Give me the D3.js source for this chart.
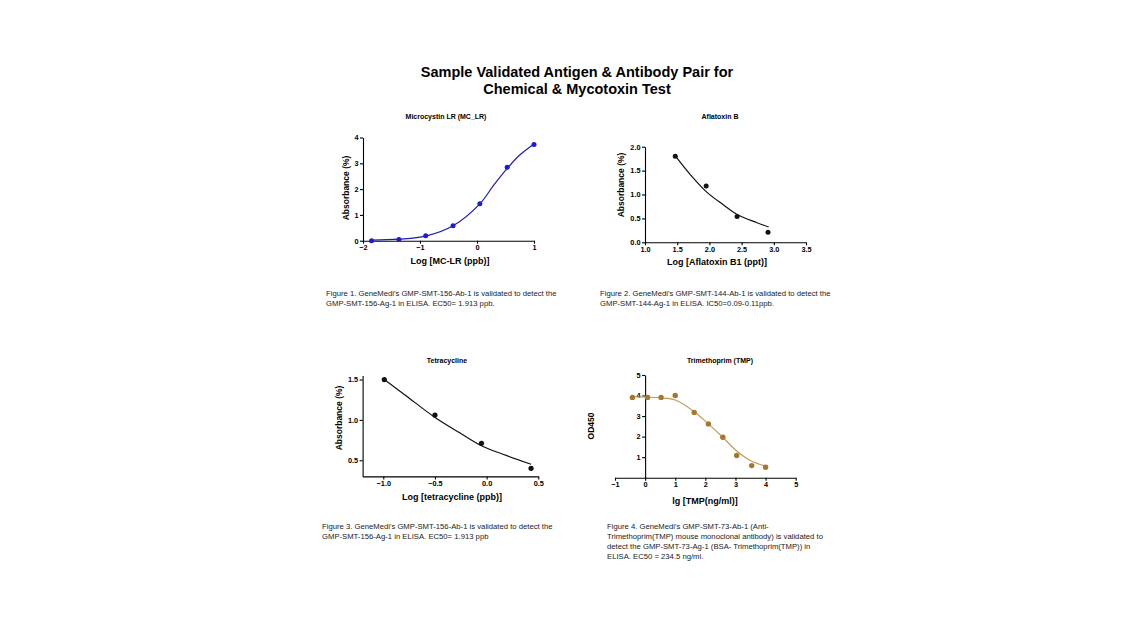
<!DOCTYPE html>
<html>
<head>
<meta charset="utf-8">
<script src="https://cdn.jsdelivr.net/npm/d3@7"></script>
<style>
  body { margin: 0; background: #fff; }
  svg { display: block; font-family: "Liberation Sans", Arial, sans-serif; }
</style>
</head>
<body>
<svg id="chart" width="1126" height="617"></svg>
<script>
// panel 1: microcystin LR
const mcX = [-1.85, -1.37, -0.90, -0.42, 0.05, 0.53, 1.00];
const mcY = [0.00, 0.05, 0.19, 0.58, 1.43, 2.85, 3.73];
const mcFitX = [-1.85, -1.37, -0.90, -0.42, 0.05, 0.29, 0.53, 0.75, 1.00];
const mcFitY = [0.02, 0.06, 0.18, 0.58, 1.43, 2.14, 2.80, 3.32, 3.75];

// panel 2: aflatoxin B
const afX = [1.47, 1.95, 2.43, 2.91];
const afY = [1.80, 1.18, 0.54, 0.21];
const afFitX = [1.48, 1.70, 1.95, 2.22, 2.43, 2.74, 2.92];
const afFitY = [1.79, 1.42, 1.06, 0.78, 0.58, 0.41, 0.32];

// panel 3: tetracycline
const tcX = [-0.99, -0.50, -0.05, 0.43];
const tcY = [1.50, 1.06, 0.71, 0.40];
const tcFitX = [-0.99, -0.78, -0.51, -0.26, -0.05, 0.19, 0.43];
const tcFitY = [1.50, 1.30, 1.04, 0.84, 0.68, 0.56, 0.45];

// panel 4: trimethoprim
const tmpX = [-0.42, 0.08, 0.53, 1.00, 1.63, 2.10, 2.58, 3.04, 3.54, 4.00];
const tmpY = [3.91, 3.91, 3.91, 4.00, 3.18, 2.62, 1.97, 1.08, 0.59, 0.51];
const tmpFitX = [-0.42, 0.00, 0.50, 1.00, 1.60, 2.10, 2.58, 3.04, 3.54, 4.05];
const tmpFitY = [3.93, 3.93, 3.89, 3.78, 3.25, 2.62, 1.97, 1.30, 0.80, 0.55];

const mainTitle = ["Sample Validated Antigen & Antibody Pair for", "Chemical & Mycotoxin Test"];

const captions = [
  ["Figure 1. GeneMedi's GMP-SMT-156-Ab-1 is validated to detect the",
   "GMP-SMT-156-Ag-1 in ELISA. EC50= 1.913 ppb."],
  ["Figure 2. GeneMedi's GMP-SMT-144-Ab-1 is validated to detect the",
   "GMP-SMT-144-Ag-1 in ELISA. IC50=0.09-0.11ppb."],
  ["Figure 3. GeneMedi's GMP-SMT-156-Ab-1 is validated to detect the",
   "GMP-SMT-156-Ag-1 in ELISA. EC50= 1.913 ppb"],
  ["Figure 4. GeneMedi's GMP-SMT-73-Ab-1 (Anti-",
   "Trimethoprim(TMP) mouse monoclonal antibody) is validated to",
   "detect the GMP-SMT-73-Ag-1 (BSA- Trimethoprim(TMP)) in",
   "ELISA. EC50 = 234.5 ng/ml."]
];

const svg = d3.select("#chart");

svg.append("text")
  .attr("x", 577).attr("text-anchor", "middle")
  .style("font-weight", "bold").style("font-size", "14.5px")
  .selectAll("tspan").data(mainTitle).join("tspan")
  .attr("x", 577).attr("y", (d, i) => 77 + i * 17)
  .text(d => d);

const panels = [
  {
    title: "Microcystin LR (MC_LR)", titleX: 446, titleY: 119,
    xs: mcX, ys: mcY, fx: mcFitX, fy: mcFitY,
    xDom: [-2, 1], xRange: [363, 534], yDom: [0, 4], yRange: [240.7, 137.5],
    xTicks: [-2, -1, 0, 1], yTicks: [0, 1, 2, 3, 4], fmtX: d3.format("d"), fmtY: d3.format("d"),
    xLabel: "Log [MC-LR (ppb)]", xLabelX: 450, xLabelY: 264,
    yLabel: "Absorbance (%)", yLabelX: 349, yLabelY: 188,
    dot: "#1c1cd0", line: "#1c1cb0", r: 2.5
  },
  {
    title: "Aflatoxin B", titleX: 720, titleY: 119,
    xs: afX, ys: afY, fx: afFitX, fy: afFitY,
    xDom: [1, 3.5], xRange: [645, 806], yDom: [0, 2], yRange: [242.3, 146.7],
    xTicks: [1, 1.5, 2, 2.5, 3, 3.5], yTicks: [0, 0.5, 1, 1.5, 2], fmtX: d3.format(".1f"), fmtY: d3.format(".1f"),
    xLabel: "Log [Aflatoxin B1 (ppt)]", xLabelX: 717, xLabelY: 265,
    yLabel: "Absorbance (%)", yLabelX: 624, yLabelY: 185,
    dot: "#111", line: "#111", r: 2.5
  },
  {
    title: "Tetracycline", titleX: 447, titleY: 363,
    xs: tcX, ys: tcY, fx: tcFitX, fy: tcFitY,
    xDom: [-1.2, 0.5], xRange: [362.6, 538.3], yDom: [0.3, 1.55], yRange: [476.4, 375.5],
    xTicks: [-1, -0.5, 0, 0.5], yTicks: [0.5, 1, 1.5], fmtX: d3.format(".1f"), fmtY: d3.format(".1f"),
    xLabel: "Log [tetracycline (ppb)]", xLabelX: 452, xLabelY: 500,
    yLabel: "Absorbance (%)", yLabelX: 342, yLabelY: 418,
    dot: "#111", line: "#111", r: 2.6
  },
  {
    title: "Trimethoprim (TMP)", titleX: 720, titleY: 363,
    xs: tmpX, ys: tmpY, fx: tmpFitX, fy: tmpFitY,
    xDom: [-1, 5], xRange: [615, 795.7], yDom: [0, 5], yRange: [477.7, 375],
    xTicks: [-1, 0, 1, 2, 3, 4, 5], yTicks: [1, 2, 3, 4, 5], fmtX: d3.format("d"), fmtY: d3.format("d"),
    xLabel: "lg [TMP(ng/ml)]", xLabelX: 705, xLabelY: 504,
    yLabel: "OD450", yLabelX: 594, yLabelY: 426,
    dot: "#a8762a", line: "#c49a58", r: 2.7, crossAxes: true
  }
];

panels.forEach(function(p) {
  const g = svg.append("g");
  const x = d3.scaleLinear().domain(p.xDom).range(p.xRange);
  const y = d3.scaleLinear().domain(p.yDom).range(p.yRange);

  g.append("text")
    .attr("x", p.titleX).attr("y", p.titleY)
    .attr("text-anchor", "middle")
    .style("font-weight", "bold").style("font-size", "7px")
    .text(p.title);

  const axisY = p.crossAxes ? y(0) : p.yRange[0];
  const axisX = p.crossAxes ? x(0) : p.xRange[0];

  const xa = g.append("g")
    .attr("transform", `translate(0,${axisY})`)
    .call(d3.axisBottom(x).tickValues(p.xTicks).tickFormat(p.fmtX).tickSize(3).tickPadding(1.5).tickSizeOuter(0));
  const ya = g.append("g")
    .attr("transform", `translate(${axisX},0)`)
    .call(d3.axisLeft(y).tickValues(p.yTicks).tickFormat(p.fmtY).tickSize(3).tickPadding(1.5).tickSizeOuter(0));

  [xa, ya].forEach(function(a) {
    a.select(".domain").attr("stroke", "#000").attr("stroke-width", 1.1);
    a.selectAll(".tick line").attr("stroke", "#000").attr("stroke-width", 1.1);
    a.selectAll(".tick text")
      .attr("fill", "#000")
      .style("font-family", "'Liberation Sans', Arial, sans-serif")
      .style("font-weight", "bold").style("font-size", "7.3px");
  });

  g.append("text")
    .attr("x", p.xLabelX).attr("y", p.xLabelY)
    .attr("text-anchor", "middle")
    .style("font-weight", "bold").style("font-size", "9px")
    .text(p.xLabel);

  g.append("text")
    .attr("transform", `translate(${p.yLabelX},${p.yLabelY}) rotate(-90)`)
    .attr("text-anchor", "middle")
    .style("font-weight", "bold").style("font-size", "8.5px")
    .text(p.yLabel);

  const fit = p.fx.map((d, i) => [d, p.fy[i]]);
  g.append("path")
    .datum(fit)
    .attr("fill", "none")
    .attr("stroke", p.line)
    .attr("stroke-width", 1.2)
    .attr("d", d3.line().x(d => x(d[0])).y(d => y(d[1])).curve(d3.curveCatmullRom.alpha(0.5)));

  g.selectAll("circle")
    .data(p.xs.map((d, i) => [d, p.ys[i]]))
    .join("circle")
    .attr("cx", d => x(d[0]))
    .attr("cy", d => y(d[1]))
    .attr("r", p.r)
    .attr("fill", p.dot);
});

const capPos = [[326, 296], [600, 296], [322, 529], [607, 529]];
captions.forEach(function(lines, k) {
  svg.append("text")
    .style("font-size", "7.7px").attr("fill", "#1a1a1a")
    .selectAll("tspan").data(lines).join("tspan")
    .attr("x", capPos[k][0]).attr("y", (d, i) => capPos[k][1] + i * 10)
    .text(d => d);
});
</script>
</body>
</html>
